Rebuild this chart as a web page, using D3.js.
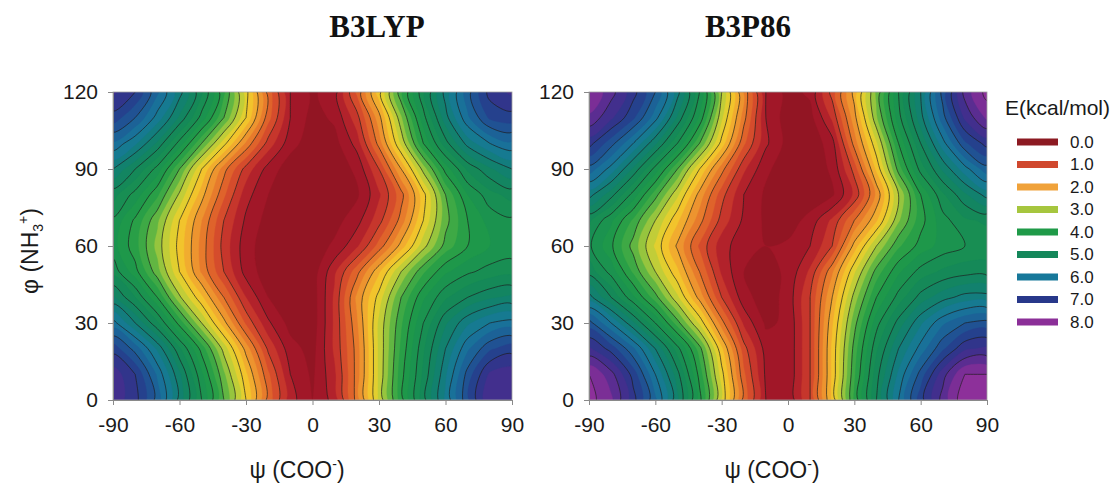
<!DOCTYPE html>
<html><head><meta charset="utf-8">
<script src="https://cdn.jsdelivr.net/npm/d3@7"></script>
<style>body{margin:0;background:#fff}svg{display:block}</style>
</head><body>
<svg id="chart" width="1110" height="489"></svg>
<script>
// ---- data ----
const psiValues = [-90,-80,-70,-60,-50,-40,-30,-20,-10,0,10,20,30,40,50,60,70,80,90];
const phiValues = [0,10,20,30,40,50,60,70,80,90,100,110,120];
const psiTicks = [-90,-60,-30,0,30,60,90];
const phiTicks = [0,30,60,90,120];
const legendLevels = [0,1,2,3,4,5,6,7,8];
const legendLabels = ["0.0","1.0","2.0","3.0","4.0","5.0","6.0","7.0","8.0"];
const legendColors = ["#8c1a22","#d0482e","#f0a23a","#a6c63e","#1f9a48","#14875a","#17789a","#28388a","#8b2f98"];
const panelTitles = ["B3LYP","B3P86"];

// rows: phi = 0 .. 120 ; columns: psi = -90 .. 90
const energyB3LYP = [
  [7.4,7.1,6.4,5.4,4.5,3.5,2.5,1.4,0.6,0.25,0.6,1.6,2.8,3.9,4.9,5.8,6.7,7.5,7.4],
  [7.4,7.0,6.2,5.3,4.3,3.3,2.3,1.3,0.5,0.2,0.7,1.6,2.8,3.9,4.8,5.7,6.6,7.3,7.4],
  [6.9,6.4,5.7,4.8,3.9,2.9,1.9,0.95,0.35,0.15,0.8,1.6,2.8,3.8,4.7,5.5,6.2,6.7,6.9],
  [6.1,5.5,4.8,3.9,3.0,2.1,1.2,0.55,0.15,0.1,0.8,1.7,2.8,3.7,4.5,5.2,5.7,6.0,6.1],
  [5.3,4.75,4.0,3.05,2.3,1.5,0.75,0.25,0.05,0.1,0.8,1.8,2.6,3.5,4.2,4.7,5.0,5.2,5.3],
  [4.65,4.1,3.35,2.5,1.7,1.0,0.4,0.1,0.02,0.1,0.7,1.4,2.2,3.0,3.7,4.2,4.45,4.6,4.65],
  [4.35,3.85,3.15,2.4,1.65,0.9,0.35,0.1,0.05,0.1,0.3,0.7,1.35,2.1,2.9,3.6,4.0,4.25,4.35],
  [4.45,3.95,3.3,2.5,1.75,1.0,0.45,0.15,0.05,0.05,0.15,0.4,0.9,1.6,2.5,3.4,4.0,4.35,4.45],
  [4.85,4.4,3.8,2.95,2.1,1.3,0.6,0.25,0.1,0.05,0.1,0.2,0.7,1.4,2.4,3.5,4.25,4.65,4.85],
  [5.5,5.0,4.4,3.5,2.5,1.6,0.9,0.4,0.1,0.05,0.1,0.3,1.0,2.0,3.1,4.1,4.8,5.2,5.5],
  [6.2,5.8,5.2,4.4,3.5,2.6,1.7,0.9,0.35,0.1,0.15,0.6,1.6,2.8,4.0,4.9,5.6,6.0,6.2],
  [6.9,6.5,5.9,5.2,4.4,3.5,2.5,1.35,0.5,0.15,0.3,0.9,1.9,3.2,4.4,5.4,6.2,6.8,6.9],
  [7.3,7.0,6.3,5.6,4.8,3.8,2.6,1.4,0.5,0.2,0.4,1.3,2.4,3.7,4.7,5.6,6.4,7.1,7.3]
];
const energyB3P86 = [
  [8.1,7.8,7.1,6.3,5.3,4.1,2.7,1.4,0.5,0.3,1.0,2.3,3.8,5.0,6.0,6.9,7.6,8.2,8.1],
  [8.0,7.6,6.9,6.0,5.1,3.9,2.6,1.3,0.45,0.3,1.0,2.3,3.7,4.9,5.8,6.6,7.4,8.0,8.0],
  [7.3,6.9,6.3,5.5,4.6,3.6,2.3,1.1,0.4,0.3,1.0,2.3,3.6,4.7,5.5,6.1,6.7,7.2,7.3],
  [6.6,6.0,5.3,4.5,3.6,2.7,1.6,0.7,0.2,0.3,1.0,2.2,3.4,4.4,5.1,5.7,6.2,6.5,6.6],
  [5.6,5.0,4.3,3.6,2.8,1.9,1.0,0.35,0.1,0.35,1.0,2.0,3.1,4.0,4.6,5.1,5.4,5.6,5.6],
  [4.9,4.4,3.7,3.0,2.3,1.5,0.7,0.25,0.15,0.3,0.8,1.7,2.7,3.6,4.2,4.6,4.8,4.9,4.9],
  [4.55,4.05,3.4,2.7,1.95,1.2,0.6,0.35,0.25,0.3,0.5,1.0,2.1,3.0,3.7,4.1,4.35,4.5,4.55],
  [4.8,4.3,3.7,3.0,2.3,1.6,0.9,0.45,0.2,0.1,0.35,0.8,1.5,2.2,3.2,3.9,4.4,4.7,4.8],
  [5.6,5.1,4.4,3.6,2.8,1.9,1.1,0.5,0.2,0.1,0.05,0.2,0.8,1.8,3.0,4.0,4.7,5.2,5.6],
  [6.4,5.9,5.2,4.4,3.5,2.5,1.6,0.8,0.3,0.1,0.05,0.3,1.1,2.3,3.6,4.6,5.3,5.9,6.4],
  [7.1,6.6,6.0,5.3,4.5,3.5,2.4,1.3,0.55,0.15,0.05,0.4,1.6,2.7,4.0,5.0,5.9,6.7,7.1],
  [7.7,7.3,6.8,6.1,5.2,4.2,2.8,1.6,0.5,0.1,0.15,0.8,1.9,3.2,4.4,5.4,6.4,7.3,7.8],
  [8.0,7.6,7.1,6.5,5.6,4.5,3.0,1.7,0.5,0.15,0.3,1.1,2.1,3.3,4.5,5.5,6.6,7.6,8.1]
];

// ---- layout ----
const svg = d3.select("#chart");
const plotTop = 92, plotBottom = 400;
const panels = [
  {left:113, right:512, data:energyB3LYP, title:panelTitles[0], titleX:377, xLabelX:297, yLabel:true},
  {left:589, right:987, data:energyB3P86, title:panelTitles[1], titleX:748, xLabelX:772, yLabel:false}
];
const sansFont = "'Liberation Sans', Arial, Helvetica, sans-serif";

// colour scale for filled bands
const colorStops = [0,0.5,1,1.5,2,2.5,3,3.5,4,5,5.5,6,6.5,7,7.5,8,9];
const colorRange = ["#8a1420","#a8182a","#d0402c","#e46e2a","#f0a030","#f2d02a","#b0cc3c","#48ae44","#1f9a48","#14875a","#117f74","#17789a","#1d5a96","#28388a","#4a2c8e","#8b2f98","#9a3aa8"];
const color = d3.scaleLinear().domain(colorStops).range(colorRange).interpolate(d3.interpolateRgb);

const fillThresholds = d3.range(0, 8.5, 0.25);
const lineThresholds = d3.range(0.5, 8.51, 0.5);

const nx = psiValues.length, ny = phiValues.length;
const smoothLine = d3.line().curve(d3.curveCatmullRomClosed.alpha(0.5));

panels.forEach((p, pi) => {
  const x = d3.scaleLinear().domain([psiValues[0], psiValues[nx-1]]).range([p.left, p.right]);
  const y = d3.scaleLinear().domain([phiValues[0], phiValues[ny-1]]).range([plotBottom, plotTop]);
  const gx = d3.scaleLinear().domain([0.5, nx-0.5]).range([psiValues[0], psiValues[nx-1]]);
  const gy = d3.scaleLinear().domain([0.5, ny-0.5]).range([phiValues[0], phiValues[ny-1]]);

  const values = [];
  p.data.forEach(row => row.forEach(v => values.push(v)));

  const g = svg.append("g");
  const clipId = "clip" + pi;
  svg.append("clipPath").attr("id", clipId).append("rect")
    .attr("x", p.left).attr("y", plotTop).attr("width", p.right - p.left).attr("height", plotBottom - plotTop);

  const toPath = (geom) => {
    let d = "";
    geom.coordinates.forEach(poly => poly.forEach(ring => {
      const pts = ring.slice(0, -1).map(c => [x(gx(c[0])), y(gy(c[1]))]);
      if (pts.length > 2) d += smoothLine(pts);
    }));
    return d;
  };

  const plot = g.append("g").attr("clip-path", `url(#${clipId})`);
  const fills = d3.contours().size([nx, ny]).thresholds(fillThresholds)(values);
  plot.selectAll("path.band").data(fills).join("path")
    .attr("class", "band")
    .attr("d", toPath)
    .attr("fill", d => color(d.value + 0.125))
    .attr("stroke", d => color(d.value + 0.125))
    .attr("stroke-width", 0.4)
    .attr("fill-rule", "evenodd");

  const lines = d3.contours().size([nx, ny]).thresholds(lineThresholds)(values);
  plot.selectAll("path.iso").data(lines).join("path")
    .attr("class", "iso")
    .attr("d", toPath)
    .attr("fill", "none")
    .attr("stroke", "#1e1e1e")
    .attr("stroke-width", 0.8)
    .attr("stroke-opacity", 0.85);

  // frame
  g.append("rect").attr("x", p.left).attr("y", plotTop)
    .attr("width", p.right - p.left).attr("height", plotBottom - plotTop)
    .attr("fill", "none").attr("stroke", "#a0a0a0").attr("stroke-width", 0.8);

  // axes
  const xAxis = g.append("g").attr("transform", `translate(0,${plotBottom})`)
    .call(d3.axisBottom(x).tickValues(psiTicks).tickSize(5).tickPadding(12).tickFormat(d3.format("d")));
  const yAxis = g.append("g").attr("transform", `translate(${p.left},0)`)
    .call(d3.axisLeft(y).tickValues(phiTicks).tickSize(5).tickPadding(10).tickFormat(d3.format("d")));
  [xAxis, yAxis].forEach(a => {
    a.select(".domain").attr("stroke", "#8a8a8a").attr("stroke-width", 1);
    a.selectAll(".tick line").attr("stroke", "#8a8a8a");
    a.selectAll(".tick text").attr("font-family", sansFont).attr("font-size", 21).attr("fill", "#1a1a1a");
  });
  xAxis.selectAll(".tick text").text(d => d < 0 ? "-" + Math.abs(d) : d);

  // title
  svg.append("text").attr("x", p.titleX).attr("y", 37).attr("text-anchor", "middle")
    .attr("font-family", "'Liberation Serif', 'Times New Roman', serif").attr("font-weight", "bold")
    .attr("font-size", 31).attr("fill", "#111").text(p.title);

  // x label
  const xl = svg.append("text").attr("x", p.xLabelX).attr("y", 478).attr("text-anchor", "middle")
    .attr("font-family", sansFont).attr("font-size", 23).attr("fill", "#1a1a1a");
  xl.append("tspan").text("ψ (COO");
  xl.append("tspan").attr("font-size", 14).attr("dy", -9).text("-");
  xl.append("tspan").attr("dy", 9).text(")");

  if (p.yLabel) {
    const yl = svg.append("text").attr("transform", `translate(38,251) rotate(-90)`).attr("text-anchor", "middle")
      .attr("font-family", sansFont).attr("font-size", 23).attr("fill", "#1a1a1a");
    yl.append("tspan").text("φ (NH");
    yl.append("tspan").attr("font-size", 14).attr("dy", 5).text("3");
    yl.append("tspan").attr("font-size", 14).attr("dy", -15).text("+");
    yl.append("tspan").attr("dy", 10).text(")");
  }
});

// legend
const lg = svg.append("g");
lg.append("text").attr("x", 1005).attr("y", 115).attr("font-family", sansFont).attr("font-size", 21)
  .attr("fill", "#1a1a1a").text("E(kcal/mol)");
const ly = d3.scalePoint().domain(legendLevels).range([142, 322]);
legendLevels.forEach((lv, i) => {
  lg.append("rect").attr("x", 1017).attr("y", ly(lv) - 3.5).attr("width", 41).attr("height", 7)
    .attr("fill", legendColors[i]);
  lg.append("text").attr("x", 1070).attr("y", ly(lv)).attr("dy", "0.35em")
    .attr("font-family", sansFont).attr("font-size", 17).attr("fill", "#1a1a1a").text(legendLabels[i]);
});
</script>
</body></html>
